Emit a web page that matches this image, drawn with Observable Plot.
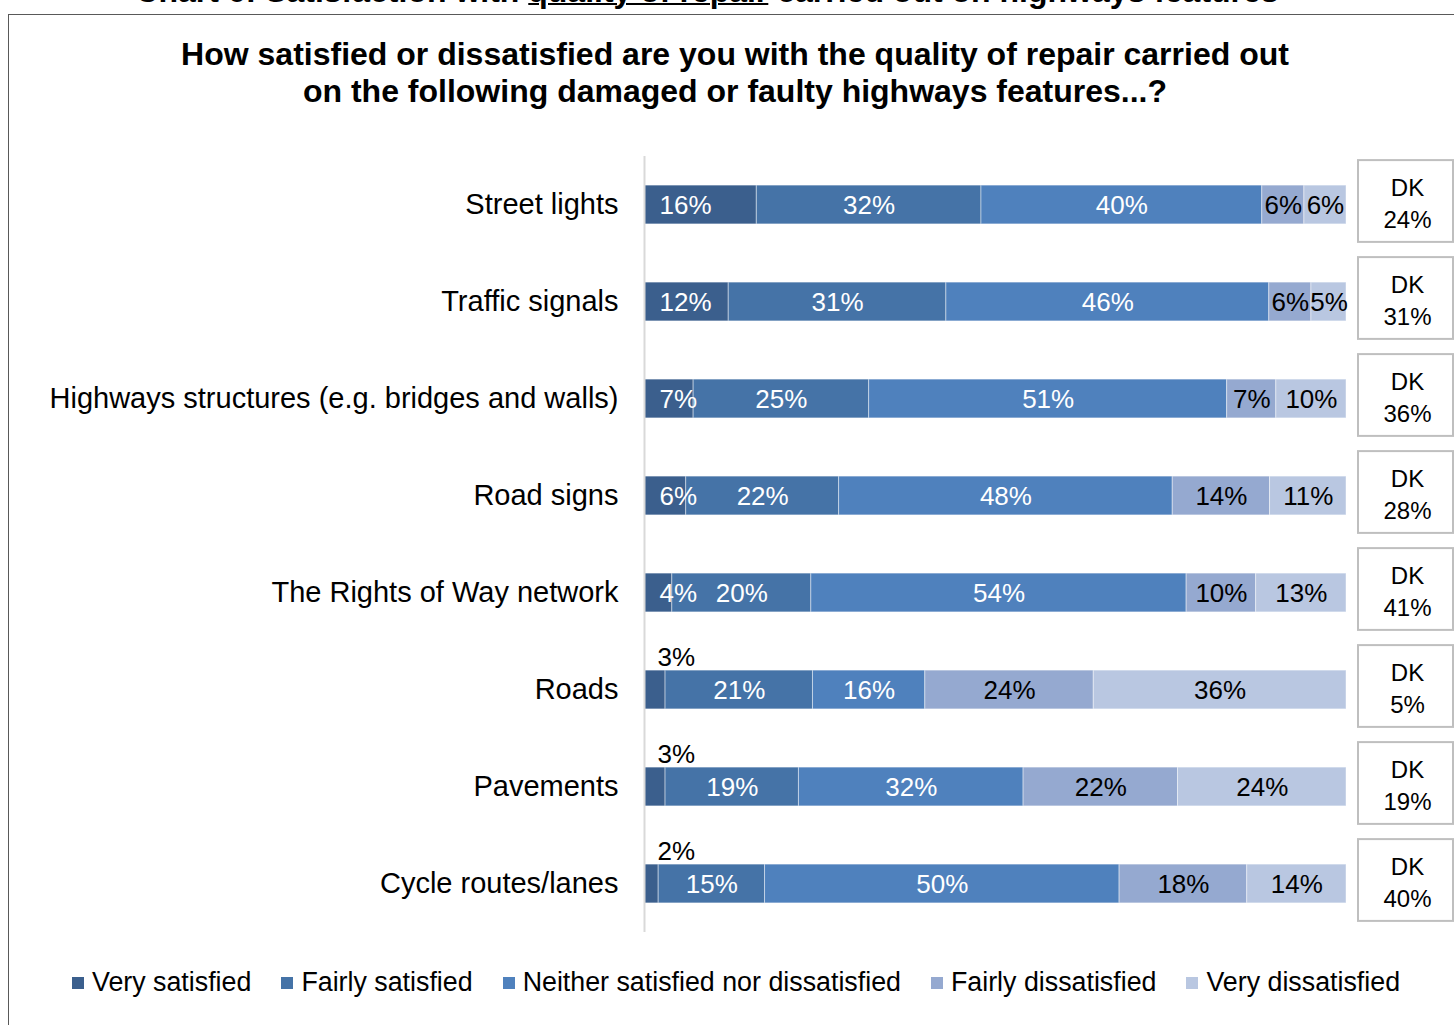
<!DOCTYPE html>
<html><head><meta charset="utf-8">
<script src="https://cdn.jsdelivr.net/npm/d3@7"></script>
<script src="https://cdn.jsdelivr.net/npm/@observablehq/plot@0.6"></script>
<style>
body{margin:0;background:#fff;font-family:"Liberation Sans",Arial,sans-serif;color:#000;}
#page{position:relative;width:1454px;height:1025px;overflow:hidden;background:#fff;}
#top{position:absolute;left:0;width:1414px;top:-25px;line-height:32px;text-align:center;font-weight:bold;font-size:32px;white-space:nowrap;}
#top u{text-decoration-thickness:2px;}
#box{position:absolute;left:8px;top:14px;width:1500px;height:1100px;border:1.5px solid #595959;box-sizing:border-box;}
#title{position:absolute;left:0;width:1470px;top:36px;text-align:center;font-weight:bold;font-size:32px;line-height:37px;white-space:nowrap;}
#chart{position:absolute;left:0;top:0;}
#legend{position:absolute;top:967px;left:72px;display:flex;gap:30px;font-size:26.8px;white-space:nowrap;}
#legend .item{display:flex;align-items:center;}
#legend .sw{width:12px;height:12px;margin-right:8px;display:inline-block;}
</style></head>
<body>
<div id="page">
  <div id="top">Chart 6: Satisfaction with <u>quality of repair</u> carried out on highways features</div>
  <div id="box"></div>
  <div id="title">How satisfied or dissatisfied are you with the quality of repair carried out<br>on the following damaged or faulty highways features...?</div>
  <div id="chart"></div>
  <div id="legend"></div>
</div>
<script>
const categories = ["Street lights","Traffic signals","Highways structures (e.g. bridges and walls)","Road signs","The Rights of Way network","Roads","Pavements","Cycle routes/lanes"];
const levels = ["Very satisfied","Fairly satisfied","Neither satisfied nor dissatisfied","Fairly dissatisfied","Very dissatisfied"];
const verySatisfied      = [16,12, 7, 6, 4, 3, 3, 2];
const fairlySatisfied    = [32,31,25,22,20,21,19,15];
const neither            = [40,46,51,48,54,16,32,50];
const fairlyDissatisfied = [ 6, 6, 7,14,10,24,22,18];
const veryDissatisfied   = [ 6, 5,10,11,13,36,24,14];
const dontKnow           = [24,31,36,28,41, 5,19,40];
const colors = ["#3b5f8d","#4573a7","#4f81bd","#95a9d0","#b9c7e1"];

const series = [verySatisfied, fairlySatisfied, neither, fairlyDissatisfied, veryDissatisfied];
const rows = [];
categories.forEach((c, i) => {
  const total = d3.sum(series, s => s[i]);
  let acc = 0;
  series.forEach((s, k) => {
    const v = s[i];
    rows.push({category: c, level: levels[k], k, value: v, x1: acc / total, x2: (acc + v) / total});
    acc += v;
  });
});
const dk = categories.map((c, i) => ({category: c, value: dontKnow[i]}));

const firstIn = rows.filter(d => d.k === 0 && d.value >= 4);
const firstOut = rows.filter(d => d.k === 0 && d.value < 4);
const mids = rows.filter(d => d.k > 0);

const chart = Plot.plot({
  width: 1454,
  height: 950,
  marginLeft: 644,
  marginRight: 108,
  marginTop: 156,
  marginBottom: 18,
  style: {fontFamily: '"Liberation Sans", Arial, sans-serif', color: "#000", background: "transparent"},
  x: {domain: [0, 1], axis: null},
  y: {domain: categories, paddingInner: 0.6, paddingOuter: 0.3, round: false, label: null},
  color: {domain: levels, range: colors},
  marks: [
    Plot.axisY({tickSize: 0, tickPadding: 26, fontSize: 29, label: null}),
    Plot.barX(rows, {x1: "x1", x2: "x2", y: "category", fill: "level", stroke: "#ffffff", strokeOpacity: 0.45, strokeWidth: 1}),
    Plot.ruleX([0], {stroke: "#d9d9d9", strokeWidth: 2}),
    Plot.text(firstIn, {x: "x1", y: "category", text: d => d.value + "%", textAnchor: "start", dx: 15, dy: 1, fill: "white", fontSize: 26}),
    Plot.text(firstOut, {x: "x1", y: "category", text: d => d.value + "%", textAnchor: "start", dx: 13, dy: -32, fill: "black", fontSize: 26}),
    Plot.text(mids, {x: d => (d.x1 + d.x2) / 2, y: "category", text: d => d.value + "%", dy: 1, fill: d => d.k < 3 ? "white" : "black", fontSize: 26}),
    Plot.barX(dk, {x1: () => 1, x2: () => 1, y: "category", insetLeft: 12, insetRight: -107, insetTop: -25, insetBottom: -18, fill: "white", stroke: "#bfbfbf", strokeWidth: 2}),
    Plot.text(dk, {x: () => 1, y: "category", text: d => "DK\n" + d.value + "%", dx: 61, dy: -3, lineHeight: 1.33, fontSize: 24, fill: "black"})
  ]
});
document.getElementById("chart").appendChild(chart);

const legend = document.getElementById("legend");
levels.forEach((l, k) => {
  const item = document.createElement("div");
  item.className = "item";
  const sw = document.createElement("span");
  sw.className = "sw";
  sw.style.background = colors[k];
  const t = document.createElement("span");
  t.textContent = l;
  item.appendChild(sw);
  item.appendChild(t);
  legend.appendChild(item);
});
</script>
</body></html>
